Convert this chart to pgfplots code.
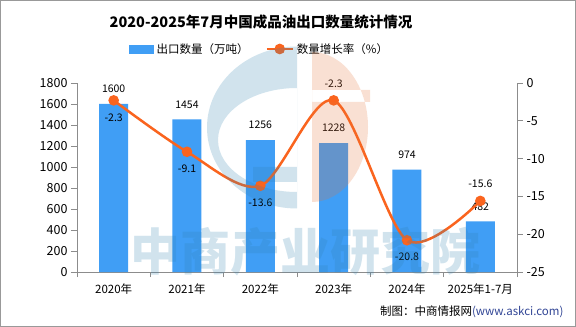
\documentclass[border=0pt]{standalone}
\usepackage{fontspec}
\setmainfont{Noto Sans CJK SC}
\usepackage{pgfplots}
\usepackage{pgfplotstable}
\pgfplotsset{compat=1.18}
\definecolor{barcol}{RGB}{64,158,245}
\definecolor{linecol}{RGB}{250,100,30}
\definecolor{axcol}{RGB}{140,140,140}
\definecolor{wm}{RGB}{46,130,177}
\definecolor{wm2}{RGB}{232,116,56}
\definecolor{srccol}{RGB}{50,70,150}
\newcommand{\fs}[1]{\fontsize{#1}{#1}\selectfont}

\pgfplotstableread{
x q
0 1600
1 1454
2 1256
3 1228
4 974
5 482
}\qtytab

\pgfplotstableread{
x g
0 -2.3
1 -9.1
2 -13.6
3 -2.3
4 -20.8
5 -15.6
}\grtab

\pgfplotsset{
  /pgf/number format/assume math mode=true,
  /pgf/number format/1000 sep={},
}

\begin{document}
\begin{tikzpicture}
\useasboundingbox (0bp,0bp) rectangle (576bp,327bp);
\fill[white] (0bp,0bp) rectangle (576bp,327bp);
\draw[gray!80, line width=1bp] (0.5bp,0.5bp) rectangle (575.5bp,326.5bp);

\node[font=\fs{14.5bp}\bfseries] at (261bp,305bp) {2020-2025年7月中国成品油出口数量统计情况};

\begin{axis}[
  at={(77bp,55bp)}, anchor=south west,
  scale only axis, width=440bp, height=189bp,
  xmin=-0.5, xmax=5.5, ymin=0, ymax=1800,
  axis x line*=bottom, axis y line*=left,
  axis line style={draw=axcol, line width=0.8bp, -},
  tick style={draw=axcol, line width=0.8bp},
  tick align=outside,
  xtick={0,1,2,3,4,5},
  xticklabels={2020年,2021年,2022年,2023年,2024年,2025年1-7月},
  major x tick style={draw=none},
  minor xtick={-0.5,0.5,1.5,2.5,3.5,4.5,5.5},
  minor tick length=5bp,
  major tick length=6bp,
  ytick={0,200,...,1800},
  ticklabel style={font=\fs{12.5bp}},
  xticklabel style={font=\fs{11.5bp}, yshift=-2bp},
  ybar, bar width=29bp,
  nodes near coords,
  nodes near coords style={font=\fs{10.5bp}, anchor=center, yshift=15bp, text=black},
  clip=false,
]
\addplot[fill=barcol, draw=none] table[x=x, y=q] {\qtytab};
\end{axis}

\begin{axis}[
  at={(77bp,55bp)}, anchor=south west,
  scale only axis, width=440bp, height=189bp,
  xmin=-0.5, xmax=5.5, ymin=-25, ymax=0,
  axis x line=none, axis y line*=right,
  axis line style={draw=axcol, line width=0.8bp, -},
  tick style={draw=axcol, line width=0.8bp},
  tick align=outside,
  major tick length=6bp,
  ytick={-25,-20,...,0},
  ticklabel style={font=\fs{12.5bp}},
  clip=false,
  legend columns=2,
  legend style={at={(axis description cs:0.118,1.18)}, anchor=west, draw=none, fill=none,
    font=\fs{11.5bp}, inner sep=0pt,
    /tikz/every odd column/.append style={column sep=1bp},
    /tikz/every even column/.append style={column sep=15bp}},
]
\addlegendimage{legend image code/.code={\fill[barcol] (0bp,-4bp) rectangle (24bp,4bp);}}
\addlegendentry{出口数量（万吨）}
\addplot[color=linecol, line width=2.5bp, smooth, mark=*, mark size=4bp,
  mark options={fill=linecol, draw=linecol},
  legend image code/.code={\draw[linecol, line width=2.5bp] (0bp,0bp) -- (26bp,0bp); \fill[linecol] (13bp,0bp) circle (4bp);}
] table[x=x, y=g] {\grtab};
\addlegendentry{数量增长率（\%）}
% labels below points
\addplot[draw=none, mark=none, forget plot,
  nodes near coords={\pgfmathprintnumber[fixed,precision=1]{\pgfplotspointmeta}},
  nodes near coords style={font=\fs{10.5bp}, anchor=center, yshift=-17bp, text=black}]
  coordinates {(0,-2.3) (1,-9.1) (2,-13.6) (4,-20.8)};
% labels above points
\addplot[draw=none, mark=none, forget plot,
  nodes near coords={\pgfmathprintnumber[fixed,precision=1]{\pgfplotspointmeta}},
  nodes near coords style={font=\fs{10.5bp}, anchor=center, yshift=17bp, text=black}]
  coordinates {(3,-2.3) (5,-15.6)};
\end{axis}

% faint logo watermark
\fill[wm, opacity=0.22, even odd rule]
  (297bp,280.5bp) arc[start angle=90, end angle=270, x radius=90bp, y radius=81bp] -- cycle
  (297bp,239bp) arc[start angle=90, end angle=270, x radius=79bp, y radius=52bp] -- cycle
  (253bp,145bp) rectangle (297bp,160bp);
\fill[wm2, opacity=0.22, even odd rule]
  (312bp,125bp) arc[start angle=-90, end angle=90, x radius=56bp, y radius=75bp] -- cycle
  (312bp,225bp) rectangle (370bp,237bp);

\node[font=\fs{50bp}\bfseries, text=wm, opacity=0.22] at (305bp,75bp) {中商产业研究院};

\node[anchor=east, font=\fs{11.5bp}] at (567bp,15bp) {制图：中商情报网\textcolor{srccol}{(www.askci.com)}};
\end{tikzpicture}
\end{document}
